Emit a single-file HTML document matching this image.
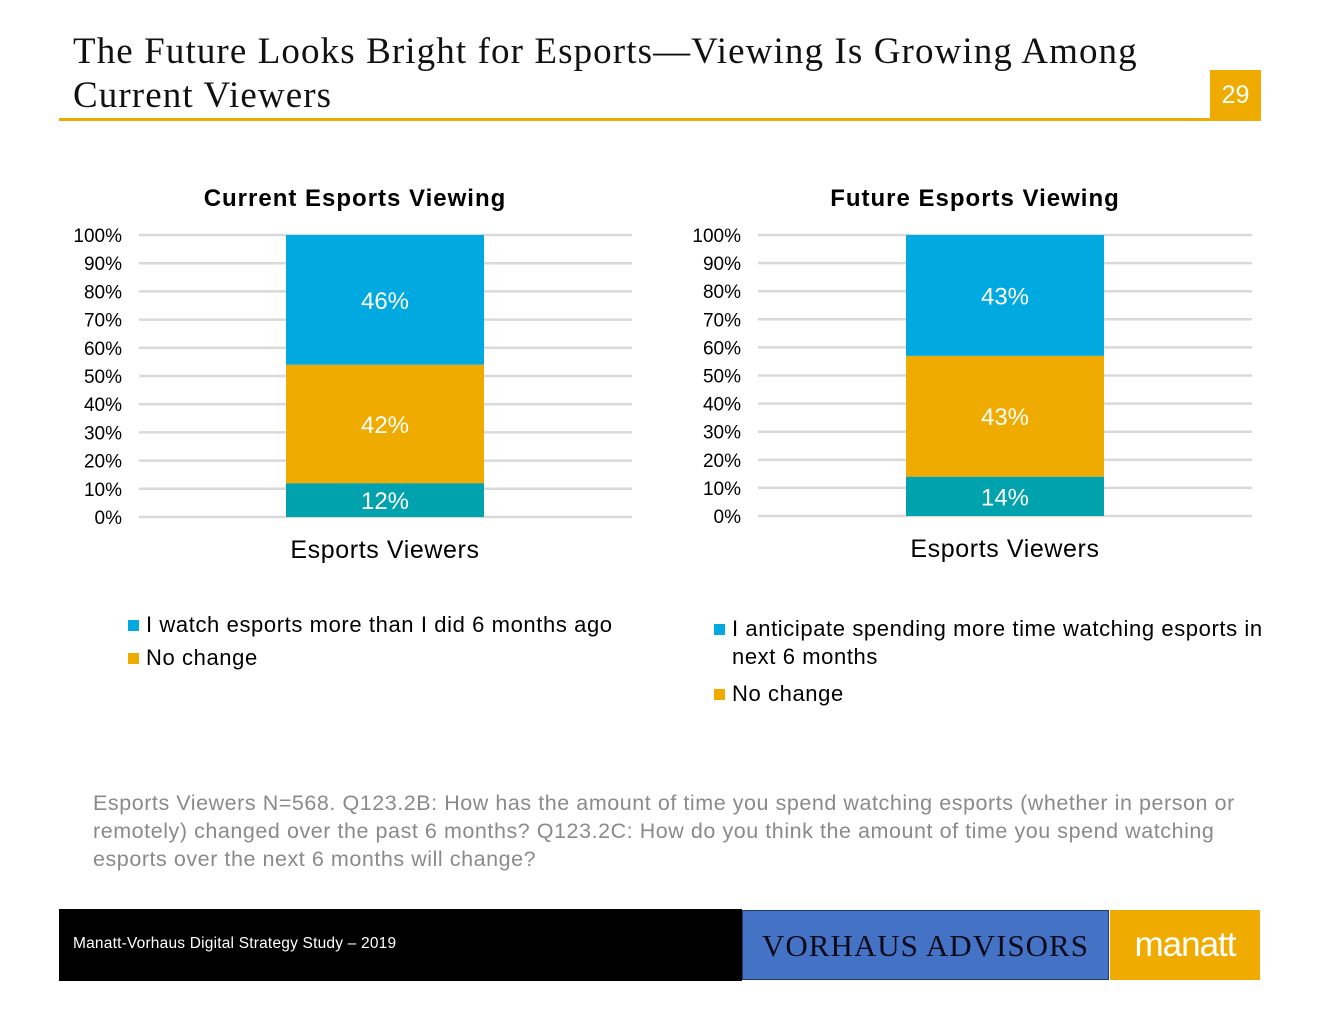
<!DOCTYPE html>
<html><head><meta charset="utf-8"><style>
body{margin:0;width:1320px;height:1020px;background:#fff;position:relative;overflow:hidden;font-family:"Liberation Sans",sans-serif}
.abs{position:absolute}
</style></head><body>
<div class="abs" style="left:73px;top:30px;font-family:'Liberation Serif',serif;font-size:37px;line-height:44px;color:#111;letter-spacing:1.1px;white-space:nowrap">The Future Looks Bright for Esports—Viewing Is Growing Among<br>Current Viewers</div>
<div class="abs" style="left:59px;top:118px;width:1202px;height:3px;background:#f0ab00"></div>
<div class="abs" style="left:1210px;top:70px;width:51px;height:50px;background:#f0ab00;color:#fff;font-size:25px;line-height:50px;text-align:center">29</div>
<svg class="abs" style="left:0;top:0" width="1320" height="1020" id="charts"></svg>
<div class="abs" style="left:93px;top:789px;width:1190px;font-size:21.5px;line-height:28px;color:#8a8a8a;letter-spacing:0.55px">Esports Viewers N=568. Q123.2B: How has the amount of time you spend watching esports (whether in person or remotely) changed over the past 6 months? Q123.2C: How do you think the amount of time you spend watching esports over the next 6 months will change?</div>
<div class="abs" style="left:59px;top:909px;width:683px;height:72px;background:#000"></div>
<div class="abs" style="left:73px;top:935px;color:#fff;font-size:15.5px;letter-spacing:0.2px">Manatt-Vorhaus Digital Strategy Study – 2019</div>
<div class="abs" style="left:742px;top:910px;width:367px;height:70px;background:#4472c4;border:1px solid #1f3864;box-sizing:border-box;color:#0a0a1a;font-family:'Liberation Serif',serif;font-size:31px;line-height:70px;text-align:center;letter-spacing:1px">VORHAUS ADVISORS</div>
<div class="abs" style="left:1110px;top:910px;width:150px;height:70px;background:#f0ab00;color:#fff;font-size:35px;line-height:70px;text-align:center;letter-spacing:-1px">manatt</div>
<script>
const ticks=["0%","10%","20%","30%","40%","50%","60%","70%","80%","90%","100%"];
const seriesNames=["Less","No change","More"];
const leftValues=[12,42,46];
const rightValues=[14,43,43];
const colors=["#00a3ad","#f0ab00","#00a9e0"];
const NS="http://www.w3.org/2000/svg";
const svg=document.getElementById('charts');
function mk(t,a,txt){const e=document.createElementNS(NS,t);for(const k in a)e.setAttribute(k,a[k]);if(txt!=null)e.textContent=txt;svg.appendChild(e);return e;}
function chart(cfg){
  const y=v=>cfg.y0-(cfg.y0-cfg.y100)*v/100;
  let t=mk('text',{x:cfg.cx,y:206,'text-anchor':'middle','font-size':24,'font-weight':'bold','font-family':'Liberation Sans','letter-spacing':1},cfg.title);
  
  
  ticks.forEach((lab,i)=>{
    const v=i*10;
    let l=mk('line',{x1:cfg.gx0,x2:cfg.gx1,y1:y(v),y2:y(v),stroke:'#d9d9d9','stroke-width':2.5});
    
    
    let tx=mk('text',{x:cfg.gx0-17,y:y(v)+7,'text-anchor':'end','font-size':19,'font-family':'Liberation Sans'},lab);
    
    
  });
  let acc=0;
  cfg.values.forEach((v,i)=>{
    const top=y(acc+v),bot=y(acc);
    let r=mk('rect',{x:cfg.bx,width:198,y:top,height:bot-top,fill:colors[i]});
    
    
    let lt=mk('text',{x:cfg.bx+99,y:(top+bot)/2+9,'text-anchor':'middle','font-size':24,fill:'#fff','font-family':'Liberation Sans'},v+'%');
    
    
    acc+=v;
  });
  let xl=mk('text',{x:cfg.bx+99,y:cfg.y0+41,'text-anchor':'middle','font-size':25,'font-family':'Liberation Sans','letter-spacing':0.6},'Esports Viewers');
  
  
  cfg.legend.forEach((lg,i)=>{
    let s=mk('rect',{x:cfg.lx,y:lg.y-12,width:11,height:11,fill:lg.c});
    
    
    lg.lines.forEach((ln,j)=>{
      let e=mk('text',{x:cfg.lx+18,y:lg.y+j*28,'font-size':22,'font-family':'Liberation Sans','letter-spacing':0.6},ln);
      
      
    });
  });
}
chart({id:'current',title:'Current Esports Viewing',cx:355,gx0:139,gx1:632,y0:517,y100:235,bx:286,values:leftValues,lx:128,
  legend:[{y:632,c:colors[2],lines:['I watch esports more than I did 6 months ago']},{y:665,c:colors[1],lines:['No change']}]});
chart({id:'future',title:'Future Esports Viewing',cx:975,gx0:758,gx1:1252,y0:516,y100:235,bx:906,values:rightValues,lx:714,
  legend:[{y:636,c:colors[2],lines:['I anticipate spending more time watching esports in','next 6 months']},{y:701,c:colors[1],lines:['No change']}]});
</script>
</body></html>
